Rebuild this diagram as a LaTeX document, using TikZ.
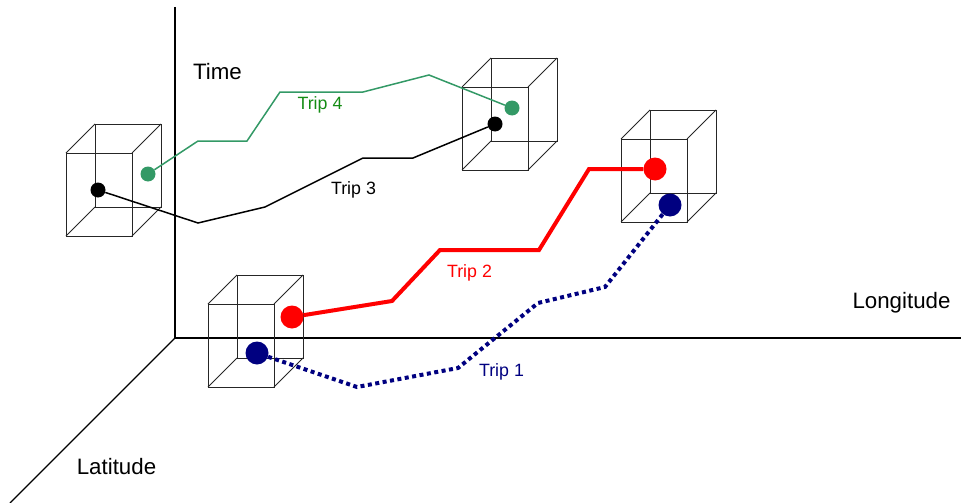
\documentclass[tikz,border=0pt]{standalone}
\usepackage{fontspec}
\setmainfont{Liberation Sans}
\definecolor{tripgreen}{RGB}{51,153,102}
\definecolor{labelgreen}{RGB}{20,140,20}
\definecolor{tripblue}{RGB}{0,0,128}
\tikzset{
  axis/.style={line width=1.4pt, black},
  boxline/.style={line width=0.9pt, black!85},
  box/.pic={
    \draw[boxline] (0,0) rectangle (66,83);
    \draw[boxline] (29,-29) rectangle (95,54);
    \draw[boxline] (0,0) -- (29,-29) (66,0) -- (95,-29)
                   (0,83) -- (29,54) (66,83) -- (95,54);
  },
  dotS/.style={circle, inner sep=0pt, minimum size=15pt, draw=none},
  dotL/.style={circle, inner sep=0pt, minimum size=23pt, draw=none},
  thinpath/.style={line width=1.5pt, line join=miter},
  thickpath/.style={line width=4pt, red, line join=miter},
  dotpath/.style={line width=4pt, tripblue, dash pattern=on 4pt off 3.5pt},
  axislabel/.style={anchor=base, inner sep=0pt, font=\fontsize{22.3}{25}\selectfont},
  triplabel/.style={anchor=base, inner sep=0pt, font=\fontsize{17.8}{20}\selectfont},
}
\begin{document}
\begin{tikzpicture}[x=1pt, y=-1pt]
\useasboundingbox (0,0) rectangle (961,503);

% axes
\coordinate (O) at (175,338);
\coordinate (timeEnd) at (175,7);
\coordinate (lonEnd) at (961,338);
\coordinate (latEnd) at (10,503);
\draw[axis] (timeEnd) -- (O) -- (lonEnd);
\draw[axis] (O) -- (latEnd);

% space-time boxes
\pic at (66,153) {box};
\pic at (462,87) {box};
\pic at (621,139) {box};
\pic at (208,304) {box};

% trip end points
\node[dotS, fill=tripgreen] (g1) at (148,174) {};
\node[dotS, fill=tripgreen] (g2) at (512,108) {};
\node[dotS, fill=black] (k1) at (98,190) {};
\node[dotS, fill=black] (k2) at (495,124) {};
\node[dotL, fill=red] (r1) at (292,317) {};
\node[dotL, fill=red] (r2) at (655,169) {};
\node[dotL, fill=tripblue] (b1) at (257,353) {};
\node[dotL, fill=tripblue] (b2) at (670,205) {};

% trips
\draw[thinpath, tripgreen] (g1) -- (198,141) -- (247,141) -- (280,92)
  -- (363,92) -- (429,75) -- (g2);
\draw[thinpath, black] (k1) -- (198,223) -- (265,207) -- (363,158)
  -- (413,158) -- (k2);
\draw[thickpath] (r1) -- (392,301) -- (440,250) -- (539,250)
  -- (589,169) -- (r2);
\draw[dotpath] (b1) -- (357,387) -- (458,368) -- (538,303)
  -- (605,287) -- (b2);

% labels
\node[axislabel] (time) at (217.5,79.5) {Time};
\node[axislabel] (lon) at (901.5,308.5) {Longitude};
\node[axislabel] (lat) at (116.5,474) {Latitude};
\node[triplabel, text=labelgreen] (t4) at (320,110) {Trip 4};
\node[triplabel, text=black] (t3) at (353.5,194) {Trip 3};
\node[triplabel, text=red] (t2) at (469.5,277.5) {Trip 2};
\node[triplabel, text=tripblue] (t1) at (501.5,376.5) {Trip 1};
\end{tikzpicture}
\end{document}
